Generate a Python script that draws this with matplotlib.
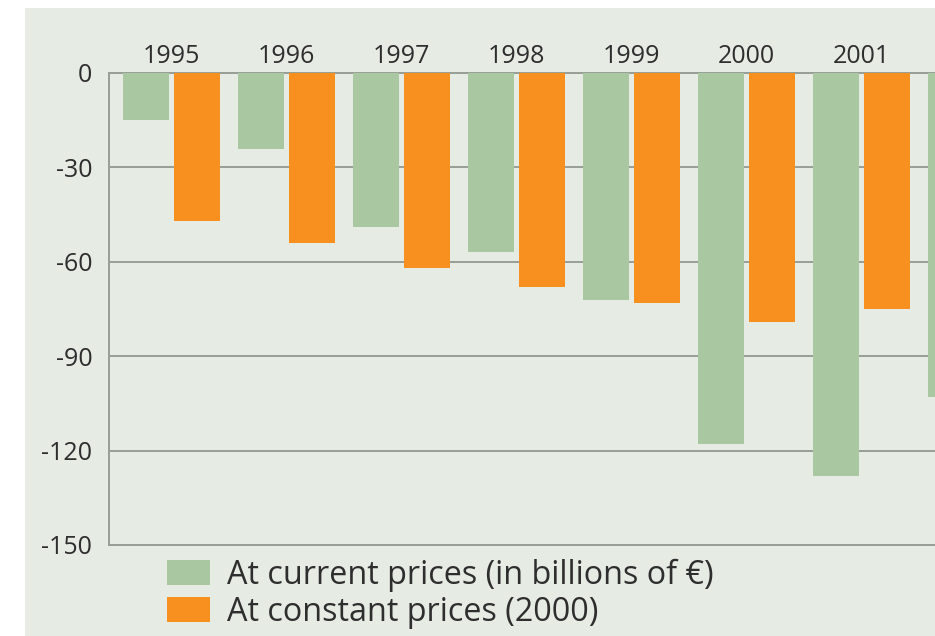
import matplotlib
matplotlib.use("Agg")
import matplotlib.pyplot as plt
from matplotlib.patches import Patch, Rectangle
import numpy as np

# Trade balance, billions of euro
years = ["1995", "1996", "1997", "1998", "1999", "2000", "2001", "2002"]
current_prices = [-15, -24, -49, -57, -72, -118, -128, -103]
constant_prices = [-47, -54, -62, -68, -73, -79, -75]
y_ticks = [0, -30, -60, -90, -120, -150]
legend_labels = ["At current prices (in billions of \u20ac)", "At constant prices (2000)"]

GREEN = "#a9c7a0"
ORANGE = "#f7901e"
BG = "#e6ebe4"
GRID = "#979e96"
TEXT = "#2e2e2e"

plt.rcParams["font.family"] = ["Open Sans", "DejaVu Sans"]

W, H = 935, 636
fig = plt.figure(figsize=(W / 100, H / 100), dpi=100, facecolor="white")

# tinted panel behind the chart
fig.patches.append(Rectangle((25 / W, 0), 1 - 25 / W, (H - 8) / H,
                             transform=fig.transFigure, facecolor=BG,
                             edgecolor="none", zorder=-5))

ax_left, ax_right = 109, 935
ax_top, ax_bottom = 73, 545
ax = fig.add_axes([ax_left / W, (H - ax_bottom) / H,
                   (ax_right - ax_left) / W, (ax_bottom - ax_top) / H])
ax.set_zorder(2)
ax.set_facecolor(BG)

x = np.arange(len(years))
offset = 0.222
width = 0.40
ax.bar(x - offset, current_prices, width=width, color=GREEN, zorder=3,
       label=legend_labels[0])
ax.bar(x[:len(constant_prices)] + offset, constant_prices, width=width,
       color=ORANGE, zorder=3, label=legend_labels[1])

xlim = (-0.543, 6.639)
ax.set_ylim(-150, 0)
ax.set_xlim(*xlim)
ax.set_yticks(y_ticks)
ax.set_yticklabels([str(v) for v in y_ticks])
ax.tick_params(axis="y", length=0, pad=12, labelsize=18, labelcolor=TEXT)

# year labels above each pair that falls inside the view
shown = x[x <= xlim[1]]
ax.set_xticks(shown)
ax.set_xticklabels([years[i] for i in shown])
ax.xaxis.tick_top()
ax.tick_params(axis="x", length=0, pad=3, labelsize=18, labelcolor=TEXT)

ax.yaxis.grid(True, color=GRID, linewidth=1.4, zorder=1)
ax.set_axisbelow(True)
for side in ["left", "top", "bottom"]:
    ax.spines[side].set_color(GRID)
    ax.spines[side].set_linewidth(1.4)
ax.spines["right"].set_visible(False)

handles = [Patch(facecolor=GREEN, edgecolor="none"),
           Patch(facecolor=ORANGE, edgecolor="none")]
fig.legend(handles, legend_labels, loc="upper left",
           bbox_to_anchor=(144 / W, (H - 536) / H),
           frameon=False, fontsize=23.3, handlelength=1.35, handleheight=0.8,
           handletextpad=0.5, labelspacing=0.12, borderpad=0.2,
           labelcolor=TEXT)

fig.savefig("out.png", dpi=100, facecolor="white")
